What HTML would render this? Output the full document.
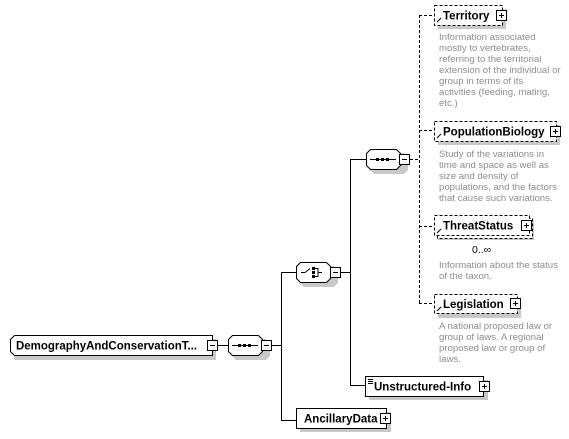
<!DOCTYPE html>
<html><head><style>
html,body{margin:0;padding:0;background:#fff;width:569px;height:439px;overflow:hidden}
text{font-family:"Liberation Sans",Tahoma,sans-serif}
.t{font-size:11.5px;font-weight:bold;fill:#000}
.d{font-size:9.6px;fill:#8c8c8c}
</style></head><body>
<svg width="569" height="439" viewBox="0 0 569 439" xmlns="http://www.w3.org/2000/svg">
<defs>
<g id="plus"><rect x="0.5" y="0.5" width="10" height="10" fill="#fff" stroke="#000"/><path d="M3 5.5h5M5.5 3v5" stroke="#000"/></g>
<g id="minus"><rect x="0.5" y="0.5" width="10" height="10" fill="#fff" stroke="#000"/><path d="M3 5.5h5" stroke="#000"/></g>
</defs>
<g stroke="#000" fill="none">
<!-- solid connectors -->
<path d="M217 345.5h11M272 345.5h9M281.5 272v149M281 272.5h15M281 420.5h15M340 272.5h10M350.5 159v227M350 159.5h16M350 385.5h16"/>
</g>
<g stroke="#000" fill="none" stroke-dasharray="3,2">
<path d="M410 159.5h9M419.5 15v289M419 15.5h15M419 130.5h15M419 226.5h15M419 303.5h15"/>
</g>
<!-- shadows -->
<g fill="#c8c8c8">
<rect x="14" y="339" width="202" height="21"/>
<path d="M236 339h30l4 4v13l-4 4h-30l-4-4v-13z"/>
<path d="M304 266h30l4 4v13l-4 4h-30l-4-4v-13z"/>
<path d="M374 153h30l4 4v13l-4 4h-30l-4-4v-13z"/>
<rect x="300" y="412" width="91" height="20"/>
<rect x="369" y="380" width="119" height="20"/>
<rect x="438" y="9" width="68" height="20"/>
<rect x="438" y="125" width="122" height="20"/>
<rect x="438" y="220" width="96" height="20"/>
<rect x="438" y="298" width="83" height="20"/>
</g>
<!-- root -->
<path d="M14.5 335.5h198v20h-198l-4-4v-12z" fill="#fff" stroke="#000"/>
<text class="t" x="16" y="349.5" textLength="181" lengthAdjust="spacingAndGlyphs">DemographyAndConservationT...</text>
<use href="#minus" x="207" y="340"/>
<!-- main sequence -->
<path d="M232.5 335.5h26l4 4v12l-4 4h-26l-4-4v-12z" fill="#fff" stroke="#000"/>
<path d="M232 345.5h26" stroke="#000"/><rect x="238" y="344" width="3" height="3"/><rect x="243" y="344" width="3" height="3"/><rect x="248" y="344" width="3" height="3"/>
<use href="#minus" x="261" y="340"/>
<!-- choice -->
<path d="M300.5 262.5h26l4 4v12l-4 4h-26l-4-4v-12z" fill="#fff" stroke="#000"/>
<path d="M301 272.5h4l5-4M314 268.5h4v8h-4M318 272.5h4" stroke="#000" fill="none"/>
<rect x="312" y="267" width="3" height="3"/><rect x="312" y="271" width="3" height="3"/><rect x="312" y="275" width="3" height="3"/>
<use href="#minus" x="330" y="267"/>
<!-- inner sequence -->
<path d="M370.5 149.5h26l4 4v12l-4 4h-26l-4-4v-12z" fill="#fff" stroke="#000"/>
<path d="M370 159.5h26" stroke="#000"/><rect x="376" y="158" width="3" height="3"/><rect x="381" y="158" width="3" height="3"/><rect x="386" y="158" width="3" height="3"/>
<use href="#minus" x="399" y="154"/>
<!-- AncillaryData -->
<rect x="296.5" y="408.5" width="90" height="20" fill="#fff" stroke="#000"/>
<text class="t" x="304" y="422.5">AncillaryData</text>
<use href="#plus" x="380" y="413"/>
<!-- Unstructured-Info -->
<rect x="365.5" y="376.5" width="118" height="20" fill="#fff" stroke="#000"/>
<path d="M368 379.5h5M368 381.5h5M368 383.5h5" stroke="#000"/>
<text class="t" x="374" y="390.5">Unstructured-Info</text>
<use href="#plus" x="479" y="381"/>
<!-- dashed optional elements -->
<g fill="#fff" stroke="#000" stroke-dasharray="3,2">
<rect x="434.5" y="5.5" width="68" height="20"/>
<rect x="434.5" y="121.5" width="122" height="20"/>
<rect x="437.5" y="218.5" width="95" height="20"/>
<rect x="434.5" y="215.5" width="95" height="20"/>
<rect x="434.5" y="294.5" width="83" height="19"/>
</g>
<g stroke="#000" fill="none"><path d="M437 22l4-4M437 138l4-4M437 233l4-4M437 311l4-4"/></g>
<text class="t" x="443" y="19.5">Territory</text><use href="#plus" x="496" y="10"/>
<text class="t" x="443" y="135.5">PopulationBiology</text><use href="#plus" x="550" y="126"/>
<text class="t" x="443" y="229.5">ThreatStatus</text><use href="#plus" x="521" y="220"/>
<text class="t" x="443" y="308">Legislation</text><use href="#plus" x="510" y="298"/>
<text x="472" y="253" font-size="10.5" fill="#000">0..∞</text>
<g class="d">
<text x="439" y="40">Information associated</text>
<text x="439" y="51">mostly to vertebrates,</text>
<text x="439" y="62">referring to the territorial</text>
<text x="439" y="73">extension of the individual or</text>
<text x="439" y="84">group in terms of its</text>
<text x="439" y="95">activities (feeding, mating,</text>
<text x="439" y="106">etc.)</text>
<text x="439" y="157">Study of the variations in</text>
<text x="439" y="168">time and space as well as</text>
<text x="439" y="179">size and density of</text>
<text x="439" y="190">populations, and the factors</text>
<text x="439" y="201">that cause such variations.</text>
<text x="439" y="268">Information about the status</text>
<text x="439" y="279">of the taxon.</text>
<text x="439" y="329">A national proposed law or</text>
<text x="439" y="340">group of laws. A regional</text>
<text x="439" y="351">proposed law or group of</text>
<text x="439" y="362">laws.</text>
</g>
</svg>
</body></html>
